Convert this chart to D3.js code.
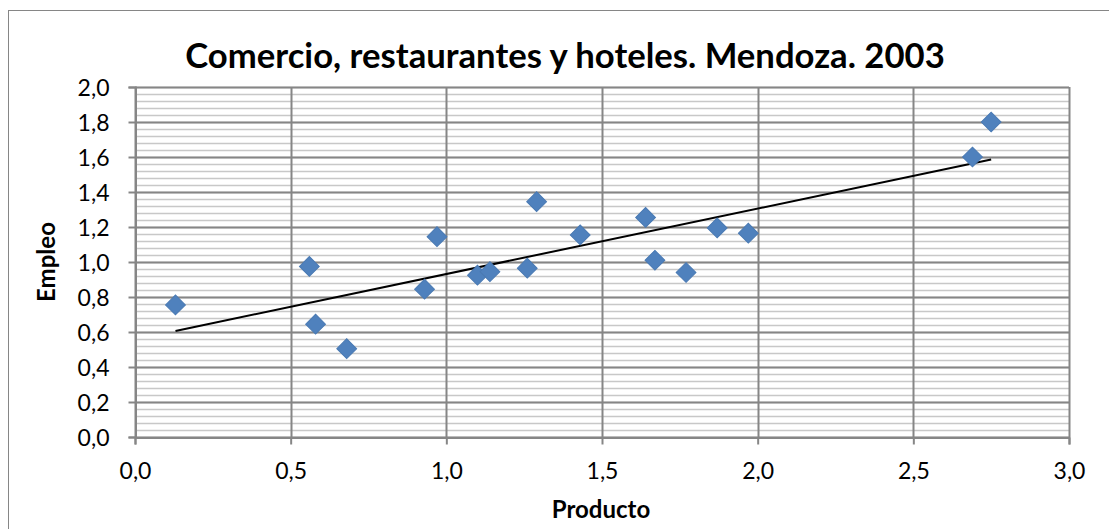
<!DOCTYPE html>
<html>
<head>
<meta charset="utf-8">
<script src="https://cdn.jsdelivr.net/npm/d3@7"></script>
<style>
  body { margin: 0; background: #fff; }
  svg { display: block; font-family: Lato, "Open Sans", sans-serif; }
</style>
</head>
<body>
<svg width="1109" height="529"></svg>
<script>
// values
const producto = [0.13, 0.56, 0.58, 0.68, 0.93, 0.97, 1.10, 1.14, 1.26, 1.29, 1.43, 1.64, 1.67, 1.77, 1.87, 1.97, 2.69, 2.75];
const empleo   = [0.755, 0.975, 0.645, 0.505, 0.845, 1.145, 0.925, 0.945, 0.965, 1.345, 1.155, 1.255, 1.01, 0.94, 1.195, 1.165, 1.60, 1.80];
const xTicks = [0, 0.5, 1, 1.5, 2, 2.5, 3];
const yTicks = [0, 0.2, 0.4, 0.6, 0.8, 1.0, 1.2, 1.4, 1.6, 1.8, 2.0];
const yMinor = d3.range(0, 2.0001, 0.04);
const titleText = "Comercio, restaurantes y hoteles. Mendoza. 2003";

const svg = d3.select("svg"),
    plotLeft = 135, plotRight = 1069, plotTop = 87, plotBottom = 437;

const x = d3.scaleLinear().domain([0, 3]).range([plotLeft, plotRight]);
const y = d3.scaleLinear().domain([0, 2]).range([plotBottom, plotTop]);
const fmt = d => d3.format(".1f")(d).replace(".", ",");

// outer chart border
svg.append("rect")
    .attr("x", 8.5).attr("y", 10.5)
    .attr("width", 1120).attr("height", 540)
    .attr("fill", "none").attr("stroke", "#868686").attr("stroke-width", 1);

// minor horizontal gridlines
svg.append("g")
    .selectAll("line")
    .data(yMinor)
    .enter().append("line")
    .attr("x1", plotLeft).attr("x2", plotRight)
    .attr("y1", d => Math.round(y(d)) + 0.5).attr("y2", d => Math.round(y(d)) + 0.5)
    .attr("stroke", "#c8c8c8").attr("stroke-width", 1.5);

// major gridlines
svg.append("g")
    .selectAll("line")
    .data(yTicks)
    .enter().append("line")
    .attr("x1", plotLeft).attr("x2", plotRight)
    .attr("y1", d => Math.round(y(d)) + 0.5).attr("y2", d => Math.round(y(d)) + 0.5)
    .attr("stroke", "#868686").attr("stroke-width", 2);

svg.append("g")
    .selectAll("line")
    .data(xTicks)
    .enter().append("line")
    .attr("x1", d => Math.round(x(d)) + 0.5).attr("x2", d => Math.round(x(d)) + 0.5)
    .attr("y1", plotTop).attr("y2", plotBottom)
    .attr("stroke", "#868686").attr("stroke-width", 2);

// axes
const yAxis = svg.append("g")
    .attr("transform", "translate(" + (plotLeft + 0.5) + ",0)")
    .call(d3.axisLeft(y).tickValues(yTicks).tickSize(7).tickPadding(19).tickFormat(fmt));
const xAxis = svg.append("g")
    .attr("transform", "translate(0," + (plotBottom + 0.5) + ")")
    .call(d3.axisBottom(x).tickValues(xTicks).tickSize(7).tickPadding(18).tickFormat(fmt));

[yAxis, xAxis].forEach(g => {
    g.select(".domain").attr("stroke", "#868686").attr("stroke-width", 2);
    g.selectAll(".tick line").attr("stroke", "#868686").attr("stroke-width", 2);
    g.selectAll("text").attr("font-size", "23px").attr("fill", "#000")
        .attr("font-family", "Lato, sans-serif");
});
yAxis.selectAll("text").attr("dy", "0.36em");

// trend line (least squares of the points)
const n = producto.length,
    mx = d3.mean(producto), my = d3.mean(empleo);
let sxy = 0, sxx = 0;
for (let i = 0; i < n; i++) {
    sxy += (producto[i] - mx) * (empleo[i] - my);
    sxx += (producto[i] - mx) * (producto[i] - mx);
}
const slope = sxy / sxx, intercept = my - slope * mx;
const x0 = d3.min(producto), x1 = d3.max(producto);
svg.append("line")
    .attr("x1", x(x0)).attr("y1", y(intercept + slope * x0))
    .attr("x2", x(x1)).attr("y2", y(intercept + slope * x1))
    .attr("stroke", "#000").attr("stroke-width", 2);

// points
svg.append("g")
    .selectAll("path")
    .data(producto.map((d, i) => [d, empleo[i]]))
    .enter().append("path")
    .attr("transform", d => "translate(" + x(d[0]) + "," + y(d[1]) + ") rotate(45)")
    .attr("d", "M-7,-7H7V7H-7Z")
    .attr("fill", "#4f81bd")
    .attr("stroke", "#4a7ab3").attr("stroke-width", 1);

// titles
const title = svg.append("text")
    .attr("x", 565).attr("y", 68)
    .attr("text-anchor", "middle")
    .attr("font-weight", "bold")
    .attr("font-size", "34px")
    .text(titleText);
const tw = title.node().getComputedTextLength();
title.attr("font-size", (34 * 760 / tw) + "px");

svg.append("text")
    .attr("x", 601).attr("y", 518)
    .attr("text-anchor", "middle")
    .attr("font-weight", "bold")
    .attr("font-size", "24px")
    .text("Producto");

svg.append("text")
    .attr("transform", "translate(55,262) rotate(-90)")
    .attr("text-anchor", "middle")
    .attr("font-weight", "bold")
    .attr("font-size", "24px")
    .text("Empleo");
</script>
</body>
</html>
